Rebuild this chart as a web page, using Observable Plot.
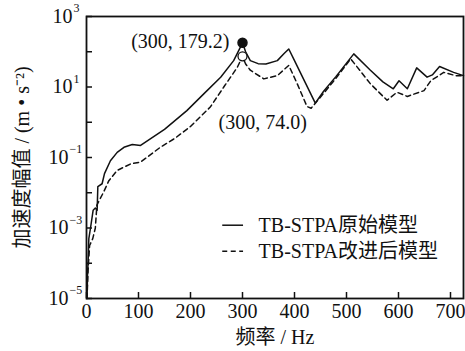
<!DOCTYPE html>
<html>
<head>
<meta charset="utf-8">
<script src="https://cdn.jsdelivr.net/npm/d3@7"></script>
<script src="https://cdn.jsdelivr.net/npm/@observablehq/plot@0.6"></script>
<style>
  html, body { margin: 0; padding: 0; background: #fff; }
  #chart svg { display: block; }
</style>
</head>
<body>
<div id="chart"></div>
<script>
// Frequencies (Hz) and acceleration amplitudes (m·s^-2)
const solidFreq = [1, 2, 3, 4.5, 7.7, 12.8, 17, 20.5, 21.8, 30, 34.6, 46, 59, 72, 88, 104, 150, 193, 226, 258, 283, 296, 300, 306, 315, 330, 345, 367, 380, 389, 400, 420, 440, 456, 480, 514, 546, 570, 590, 601, 617, 635, 655, 665, 679, 706, 725];
const solidAmp = [1e-5, 5.0e-5, 1e-4, 5.0e-4, 1e-3, 3.2e-3, 3.7e-3, 3.2e-3, 0.015, 0.018, 0.035, 0.081, 0.14, 0.195, 0.234, 0.22, 0.63, 2.14, 6.5, 19, 56, 135, 179.2, 100, 56, 46, 45, 56, 89, 120, 56, 14, 3.5, 7.6, 20, 87, 30, 14, 8.9, 15, 8.9, 35, 19, 22, 38, 26, 21];

const dashFreq = [1, 3, 6, 12, 17, 20, 33, 43, 59, 85, 104, 142, 170, 200, 238, 264, 290, 300, 306, 315, 341, 367, 389, 405, 424, 432, 456, 480, 508, 546, 578, 597, 617, 649, 662, 687, 710, 725];
const dashAmp = [1e-5, 6.3e-5, 3.2e-4, 5e-4, 1e-3, 4.5e-3, 0.0105, 0.022, 0.043, 0.066, 0.074, 0.195, 0.35, 0.76, 2.7, 10, 36, 74.0, 45, 30, 17, 21, 41, 12.6, 2.8, 2.5, 6.6, 18, 63, 12.3, 4.2, 7.1, 5.4, 7.9, 15, 26, 21, 21];

const seriesNames = ["TB-STPA原始模型", "TB-STPA改进后模型"];
const xTicks = [0, 100, 200, 300, 400, 500, 600, 700];
const yTickExps = [-5, -4, -3, -2, -1, 0, 1, 2, 3];
const yLabelExps = [-5, -3, -1, 1, 3];
const peaks = [
  {f: 300, a: 179.2, label: "(300, 179.2)"},
  {f: 300, a: 74.0, label: "(300, 74.0)"}
];
// legend anchor points (data space)
const legendX = [262, 302, 331];
const legendY = [1.2e-3, 2.2e-4];

const solid = solidFreq.map((f, i) => ({f, a: solidAmp[i]}));
const dashed = dashFreq.map((f, i) => ({f, a: dashAmp[i]}));
const yTicks = yTickExps.map(e => Math.pow(10, e));

const FF = "Liberation Serif, Noto Sans CJK SC";
const W = 465, H = 351;
const mL = 86, mR = 2, mT = 16, mB = 53;
const innerW = W - mL - mR, innerH = H - mT - mB;
const T = (data, opts) => Plot.text(data, {fontFamily: FF, fill: "#111", fontSize: 20, ...opts});

const chart = Plot.plot({
  width: W, height: H,
  marginLeft: mL, marginRight: mR, marginTop: mT, marginBottom: mB,
  style: {background: "#fff"},
  x: {domain: [0, 725], axis: null},
  y: {type: "log", domain: [1e-5, 1e3], axis: null},
  marks: [
    Plot.line(solid, {x: "f", y: "a", stroke: "#111", strokeWidth: 1.5}),
    Plot.line(dashed, {x: "f", y: "a", stroke: "#111", strokeWidth: 1.5, strokeDasharray: "5,3.5"}),
    // ticks inward
    Plot.tickX(xTicks, {x: d => d, stroke: "#111", strokeWidth: 1.5, insetTop: innerH - 6}),
    Plot.tickY(yTicks, {y: d => d, stroke: "#111", strokeWidth: 1.5, insetRight: innerW - 6}),
    Plot.frame({stroke: "#111", strokeWidth: 1.8}),
    // x tick labels
    T(xTicks, {x: d => d, frameAnchor: "bottom", dy: 13, text: d => String(d), lineAnchor: "middle", textAnchor: "middle"}),
    // y tick labels: base and exponent
    T(yLabelExps.filter(e => e > 0), {y: d => Math.pow(10, d), frameAnchor: "left", dx: -14, textAnchor: "end", text: () => "10"}),
    T(yLabelExps.filter(e => e > 0), {y: d => Math.pow(10, d), frameAnchor: "left", dx: -13, dy: -8, textAnchor: "start", text: d => String(d), fontSize: 12}),
    T(yLabelExps.filter(e => e < 0), {y: d => Math.pow(10, d), frameAnchor: "left", dx: -18, textAnchor: "end", text: () => "10"}),
    T(yLabelExps.filter(e => e < 0), {y: d => Math.pow(10, d), frameAnchor: "left", dx: -17, dy: -8, textAnchor: "start", text: d => "−" + String(-d), fontSize: 12}),
    // axis titles
    T(["频率 / Hz"], {frameAnchor: "bottom", dy: 39, text: d => d, lineAnchor: "middle", textAnchor: "middle"}),
    T(["加速度幅值 / (m • s⁻²)"], {frameAnchor: "left", dx: -64, rotate: -90, text: d => d, lineAnchor: "middle", textAnchor: "middle"}),
    // peak markers
    Plot.dot([peaks[0]], {x: "f", y: "a", r: 4.5, fill: "#111", stroke: "#111"}),
    Plot.dot([peaks[1]], {x: "f", y: "a", r: 4.5, fill: "#fff", stroke: "#111", strokeWidth: 1.3}),
    T([peaks[0]], {x: "f", y: "a", text: "label", textAnchor: "end", dx: -13, dy: -1}),
    T([peaks[1]], {x: "f", y: "a", text: "label", textAnchor: "start", dx: -24, dy: 66}),
    // legend
    Plot.ruleY([legendY[0]], {x1: legendX[0], x2: legendX[1], stroke: "#111", strokeWidth: 1.5}),
    Plot.ruleY([legendY[1]], {x1: legendX[0], x2: legendX[1], stroke: "#111", strokeWidth: 1.5, strokeDasharray: "5,3.5"}),
    T([0, 1], {x: () => legendX[2], y: i => legendY[i], text: i => seriesNames[i], textAnchor: "start"})
  ]
});
document.getElementById("chart").appendChild(chart);
</script>
</body>
</html>
